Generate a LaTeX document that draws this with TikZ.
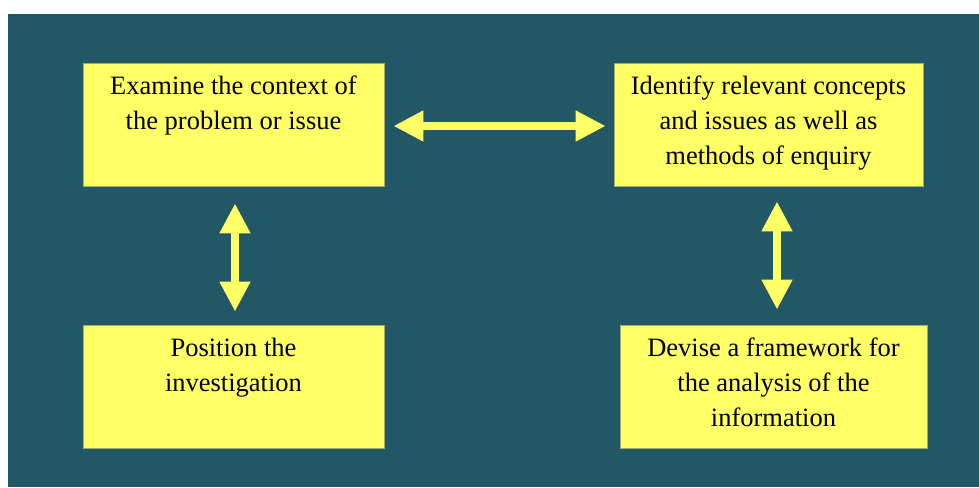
\documentclass[tikz,border=0pt]{standalone}
\usepackage{fontspec}
\setmainfont{Liberation Serif}
\usetikzlibrary{arrows.meta}
\definecolor{slate}{HTML}{225866}
\definecolor{pad}{HTML}{FFFF66}
\definecolor{padedge}{HTML}{A8A86C}
\begin{document}
\begin{tikzpicture}[x=1pt,y=-1pt,
  stepbox/.style={rectangle, fill=pad, draw=padedge, line width=0.8pt,
    inner sep=0pt, minimum height=123pt, minimum width=#1},
  caption/.style={inner sep=0pt, align=center, anchor=north,
    font=\fontsize{26.5}{35}\selectfont},
  link/.style={draw=pad, fill=pad, line width=7.5pt,
    {Triangle[length=30pt,width=29pt]}-{Triangle[length=30pt,width=29pt]}}]
  \useasboundingbox (0,0) rectangle (979,487);
  \fill[slate] (8,14) rectangle (979,487);

  % the four steps
  \node[stepbox=301pt] (b1) at (233.5,124.5) {};
  \node[stepbox=309pt] (b2) at (768.5,124.5) {};
  \node[stepbox=301pt] (b3) at (233.5,386.5) {};
  \node[stepbox=307pt] (b4) at (773.5,386.5) {};

  \node[caption] (t1) at ([yshift=-13pt]b1.north) {Examine the context of\\the problem or issue};
  \node[caption] (t2) at ([yshift=-13pt]b2.north) {Identify relevant concepts\\and issues as well as\\methods of enquiry};
  \node[caption] (t3) at ([yshift=-13pt]b3.north) {Position the\\investigation};
  \node[caption] (t4) at ([yshift=-13pt]b4.north) {Devise a framework for\\the analysis of the\\information};

  % two-way links between the steps
  \draw[link, shorten <=9pt, shorten >=8pt] ([yshift=-1.5pt]b1.east) -- ([yshift=-1.5pt]b2.west);
  \draw[link, shorten <=17pt, shorten >=13pt] ([xshift=1.5pt]b1.south) -- ([xshift=1.5pt]b3.north);
  \draw[link, shorten <=15pt, shorten >=15pt] ([xshift=8.5pt]b2.south) -- ([xshift=3.5pt]b4.north);
\end{tikzpicture}
\end{document}
